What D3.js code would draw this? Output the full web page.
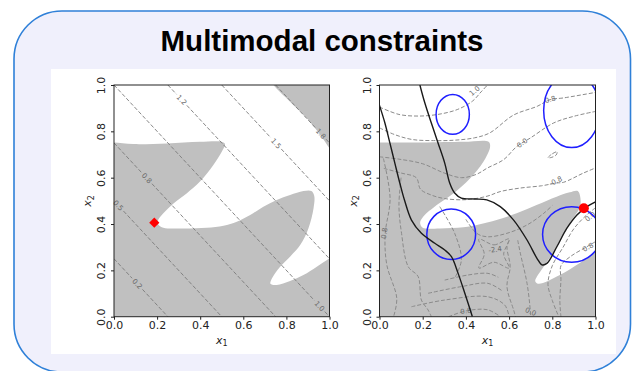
<!DOCTYPE html>
<html>
<head>
<meta charset="utf-8">
<script src="https://cdn.jsdelivr.net/npm/d3@7"></script>
<style>
  body { margin: 0; background: #ffffff; }
  text { font-family: "DejaVu Sans", sans-serif; }
</style>
</head>
<body>
<svg id="chart" width="632" height="371"></svg>
<script>
const titleText = 'Multimodal constraints';
const tickValues = [0, 0.2, 0.4, 0.6, 0.8, 1.0];
const tickLabels = ['0.0', '0.2', '0.4', '0.6', '0.8', '1.0'];

// left panel: straight objective contours x1 + x2 = level
const leftLevels = [0.25, 0.5, 0.75, 1.0, 1.25, 1.5, 1.75];
const leftLevelLabels = ['0.2', '0.5', '0.8', '1.0', '1.2', '1.5', '1.8'];
const leftLabelX1 = [0.108, 0.02, 0.152, 0.954, 0.314, 0.752, 0.96];
// feasible (white) region, data units
const leftFeasible = [[-0.03, 1.03], [0.72, 1.03], [0.74, 1.0], [0.817, 0.928], [0.895, 0.856], [0.957, 0.784], [1.0, 0.727], [1.03, 0.69],
  [1.03, 0.27], [1.0, 0.252], [0.941, 0.216], [0.879, 0.18], [0.817, 0.154], [0.755, 0.137], [0.726, 0.142], [0.734, 0.167],
  [0.771, 0.216], [0.817, 0.259], [0.864, 0.309], [0.902, 0.381], [0.926, 0.468], [0.929, 0.522], [0.916, 0.542], [0.879, 0.542],
  [0.817, 0.525], [0.755, 0.504], [0.693, 0.475], [0.632, 0.439], [0.57, 0.41], [0.508, 0.393], [0.43, 0.384], [0.322, 0.381],
  [0.229, 0.384], [0.207, 0.396], [0.203, 0.412], [0.229, 0.446], [0.276, 0.489], [0.337, 0.532], [0.399, 0.583], [0.461, 0.655],
  [0.5, 0.712], [0.515, 0.745], [0.5, 0.755], [0.399, 0.755], [0.245, 0.748], [0.09, 0.745], [0.0, 0.752], [-0.03, 0.752]];
const leftOptimum = [0.187, 0.406];

// right panel
const rightFeasible = [[-0.03, 1.03], [1.03, 1.03], [1.03, 0.3], [1.0, 0.28], [0.927, 0.232], [0.835, 0.18], [0.735, 0.142],
  [0.721, 0.153], [0.729, 0.173], [0.76, 0.216], [0.821, 0.301], [0.881, 0.404], [0.93, 0.48], [0.918, 0.542], [0.881, 0.537],
  [0.82, 0.518], [0.727, 0.482], [0.635, 0.446], [0.542, 0.417], [0.465, 0.399], [0.388, 0.386], [0.28, 0.381], [0.2, 0.384],
  [0.188, 0.405], [0.203, 0.432], [0.265, 0.482], [0.342, 0.532], [0.419, 0.597], [0.481, 0.669], [0.512, 0.734], [0.505, 0.755],
  [0.39, 0.755], [0.2, 0.752], [0.0, 0.752], [-0.03, 0.752]];
const rightContours = [
  [[0, 0.905], [0.09, 0.873], [0.18, 0.866], [0.27, 0.873], [0.36, 0.894], [0.43, 0.93], [0.47, 0.97], [0.5, 1.0]],
  [[0, 0.815], [0.07, 0.786], [0.15, 0.765], [0.25, 0.76], [0.35, 0.762], [0.44, 0.772], [0.51, 0.793], [0.62, 0.87], [0.73, 0.908], [0.79, 0.937], [0.85, 0.944], [1, 0.968]],
  [[0, 0.69], [0.09, 0.68], [0.2, 0.66], [0.3, 0.62], [0.38, 0.6], [0.45, 0.615], [0.5, 0.642], [0.575, 0.678], [0.636, 0.735], [0.698, 0.771], [0.806, 0.836], [0.9, 0.865], [1, 0.886]],
  [[0.02, 0.64], [0.1, 0.62], [0.17, 0.6], [0.19, 0.55], [0.24, 0.525], [0.3, 0.51], [0.4, 0.505], [0.498, 0.52], [0.559, 0.54], [0.65, 0.555], [0.75, 0.565], [0.82, 0.577], [0.852, 0.58], [0.944, 0.62], [1, 0.642]],
  [[1, 0.324], [0.96, 0.302], [0.883, 0.259], [0.84, 0.22], [0.84, 0.16], [0.835, 0.07], [0.84, 0]],
  [[1, 0.47], [0.96, 0.44], [0.9, 0.38], [0.85, 0.3], [0.8, 0.22], [0.78, 0.14], [0.8, 0.07], [0.83, 0]],
  [[0.4, 0.42], [0.45, 0.36], [0.498, 0.345], [0.59, 0.36], [0.683, 0.396], [0.76, 0.446], [0.8, 0.48]],
  [[0.6, 0.33], [0.59, 0.302], [0.605, 0.216], [0.59, 0.13], [0.621, 0.029], [0.63, 0]],
  [[0.64, 0.33], [0.652, 0.274], [0.683, 0.144], [0.698, 0.029], [0.7, 0]],
  [[0.302, 0.158], [0.41, 0.18], [0.502, 0.187], [0.55, 0.17]],
  [[0.225, 0.101], [0.379, 0.13], [0.502, 0.144], [0.57, 0.11]],
  [[0.148, 0.043], [0.302, 0.072], [0.502, 0.086], [0.58, 0.05], [0.6, 0]],
  [[0.279, 0.475], [0.348, 0.36], [0.379, 0.245], [0.35, 0.17]],
  [[0.018, 0.683], [0.049, 0.511], [0.026, 0.353], [0.034, 0.223], [0.08, 0.079], [0.065, 0]],
  [[0.1, 0.6], [0.09, 0.48], [0.102, 0.36], [0.133, 0.216], [0.179, 0.173], [0.194, 0.072], [0.225, 0.029], [0.24, 0]],
  [[0.32, 0], [0.4, 0.025], [0.5, 0.03], [0.56, 0]]
];
const rightClosedContours = [
  [[0.46, 0.335], [0.53, 0.31], [0.6, 0.335], [0.575, 0.27], [0.6, 0.21], [0.53, 0.235], [0.46, 0.21], [0.485, 0.27]],
  [[0.78, 0.686], [0.8, 0.703], [0.822, 0.712], [0.818, 0.698], [0.798, 0.688]]
];
const rightLevelLabels = ['1.0', '0.8', '0.0', '-0.8', '-2.4', '0.8', '0.0', '0.8', '0.8', '0.0'];
const rightLabelX1 = [0.44, 0.79, 0.66, 0.815, 0.535, 0.965, 0.975, 0.022, 0.40, 0.70];
const rightLabelX2 = [0.975, 0.938, 0.75, 0.585, 0.29, 0.3, 0.432, 0.36, 0.025, 0.022];
const constraintCurves = [
  [[0, 0.912], [0.025, 0.836], [0.048, 0.75], [0.071, 0.663], [0.094, 0.577], [0.117, 0.499], [0.148, 0.417], [0.194, 0.36],
    [0.256, 0.317], [0.302, 0.288], [0.333, 0.259], [0.364, 0.187], [0.395, 0.101], [0.425, 0.015], [0.43, 0]],
  [[0.187, 1.0], [0.21, 0.922], [0.24, 0.836], [0.271, 0.75], [0.302, 0.663], [0.325, 0.577], [0.348, 0.534], [0.379, 0.512],
    [0.441, 0.508], [0.497, 0.504], [0.559, 0.475], [0.621, 0.417], [0.683, 0.331], [0.729, 0.252], [0.752, 0.224], [0.775, 0.23],
    [0.821, 0.302], [0.867, 0.381], [0.914, 0.439], [0.96, 0.475], [1.0, 0.496]]
];
const blueCenters = [[0.339, 0.873], [0.89, 0.89], [0.332, 0.356], [0.89, 0.355]];
const blueRx = [0.077, 0.13, 0.113, 0.135];
const blueRy = [0.086, 0.16, 0.109, 0.12];
const rightOptimum = [0.946, 0.468];

const svg = d3.select('#chart');

// slide frame
svg.append('rect')
  .attr('x', 14).attr('y', 11).attr('width', 616.5).attr('height', 361).attr('rx', 48)
  .attr('fill', '#f0f0fc').attr('stroke', '#2f80d8').attr('stroke-width', 1.6);
svg.append('rect')
  .attr('x', 51).attr('y', 69).attr('width', 565).attr('height', 285).attr('fill', '#ffffff');
svg.append('text')
  .attr('x', 322).attr('y', 51).attr('text-anchor', 'middle')
  .style('font-family', '"Liberation Sans", Arial, sans-serif')
  .style('font-weight', 'bold').style('font-size', '29.5px').attr('fill', '#000')
  .text(titleText);

const plotTop = 85, plotBottom = 316.7;
const dash = '4,2';

function makePanel(left, right, clipId) {
  const x = d3.scaleLinear().domain([0, 1]).range([left, right]);
  const y = d3.scaleLinear().domain([0, 1]).range([plotBottom, plotTop]);
  const g = svg.append('g');
  g.append('clipPath').attr('id', clipId)
    .append('rect').attr('x', left).attr('y', plotTop).attr('width', right - left).attr('height', plotBottom - plotTop);
  const plot = g.append('g').attr('clip-path', `url(#${clipId})`);
  plot.append('rect')
    .attr('x', x(0)).attr('y', y(1)).attr('width', x(1) - x(0)).attr('height', y(0) - y(1))
    .attr('fill', '#c0c0c0');
  return { x, y, g, plot };
}

function drawAxes(p) {
  const { x, y, g } = p;
  // x axis
  const xa = g.append('g').attr('transform', `translate(0,${plotBottom})`)
    .call(d3.axisBottom(x).tickValues(tickValues).tickFormat((d, i) => tickLabels[i]).tickSize(3).tickPadding(1.5));
  xa.select('.domain').remove();
  xa.selectAll('line').attr('stroke', '#222');
  xa.selectAll('text').style('font-size', '11px').style('font-family', '"DejaVu Sans"').attr('fill', '#222');
  // y axis, rotated labels
  const ya = g.append('g').attr('transform', `translate(${x(0)},0)`)
    .call(d3.axisLeft(y).tickValues(tickValues).tickFormat((d, i) => tickLabels[i]).tickSize(3).tickPadding(1.5));
  ya.select('.domain').remove();
  ya.selectAll('line').attr('stroke', '#222');
  ya.selectAll('text')
    .attr('x', null).attr('dy', null).attr('text-anchor', 'middle')
    .attr('transform', 'translate(-9,0) rotate(-90)')
    .style('font-size', '11px').style('font-family', '"DejaVu Sans"').attr('fill', '#222');
  // spine
  g.append('rect')
    .attr('x', x(0)).attr('y', y(1)).attr('width', x(1) - x(0)).attr('height', y(0) - y(1))
    .attr('fill', 'none').attr('stroke', '#222').attr('stroke-width', 1);
  // axis titles
  const xt = g.append('text').attr('x', (x(0) + x(1)) / 2).attr('y', plotBottom + 27)
    .attr('text-anchor', 'middle').style('font-size', '11px').attr('fill', '#222');
  xt.append('tspan').style('font-style', 'italic').text('x');
  xt.append('tspan').attr('dy', 2.5).style('font-size', '8px').text('1');
  const yt = g.append('text')
    .attr('transform', `translate(${x(0) - 23},${(y(0) + y(1)) / 2}) rotate(-90)`)
    .attr('text-anchor', 'middle').style('font-size', '11px').attr('fill', '#222');
  yt.append('tspan').style('font-style', 'italic').text('x');
  yt.append('tspan').attr('dy', 2.5).style('font-size', '8px').text('2');
}

const curveOpen = d3.curveCatmullRom.alpha(0.5);
const curveClosed = d3.curveCatmullRomClosed.alpha(0.5);

// ---------- left panel ----------
const L = makePanel(114, 329.5, 'clipL');
const lineL = d3.line().x(d => L.x(d[0])).y(d => L.y(d[1]));
L.plot.append('path').datum(leftFeasible)
  .attr('d', lineL.curve(curveClosed)).attr('fill', '#ffffff');

const angleL = Math.atan2(L.y(0) - L.y(1), L.x(1) - L.x(0)) * 180 / Math.PI;
const gap = 0.024;
leftLevels.forEach((c, i) => {
  const sx = Math.max(0, c - 1), ex = Math.min(1, c);
  const lx = leftLabelX1[i];
  const segs = [[[sx, c - sx], [lx - gap, c - lx + gap]], [[lx + gap, c - lx - gap], [ex, c - ex]]];
  segs.forEach(s => {
    if (s[1][0] <= s[0][0]) return;
    L.plot.append('path').datum(s)
      .attr('d', d3.line().x(d => L.x(d[0])).y(d => L.y(d[1])))
      .attr('fill', 'none').attr('stroke', '#7a7a7a').attr('stroke-width', 0.9)
      .attr('stroke-dasharray', dash);
  });
  L.g.append('text')
    .attr('transform', `translate(${L.x(lx)},${L.y(c - lx)}) rotate(${angleL})`)
    .attr('text-anchor', 'middle').attr('dy', '0.35em')
    .style('font-size', '7px').attr('fill', '#6a6a6a')
    .text(leftLevelLabels[i]);
});

L.plot.append('path')
  .attr('d', d3.symbol(d3.symbolSquare, 52)())
  .attr('transform', `translate(${L.x(leftOptimum[0])},${L.y(leftOptimum[1])}) rotate(45)`)
  .attr('fill', '#ff0000');
drawAxes(L);

// ---------- right panel ----------
const R = makePanel(379.5, 595.5, 'clipR');
const lineR = d3.line().x(d => R.x(d[0])).y(d => R.y(d[1]));
R.plot.append('path').datum(rightFeasible)
  .attr('d', lineR.curve(curveClosed)).attr('fill', '#ffffff');

R.plot.selectAll('path.contour').data(rightContours).enter().append('path')
  .attr('class', 'contour')
  .attr('d', d3.line().x(d => R.x(d[0])).y(d => R.y(d[1])).curve(curveOpen))
  .attr('fill', 'none').attr('stroke', '#8a8a8a').attr('stroke-width', 1)
  .attr('stroke-dasharray', dash);
R.plot.selectAll('path.loop').data(rightClosedContours).enter().append('path')
  .attr('class', 'loop')
  .attr('d', d3.line().x(d => R.x(d[0])).y(d => R.y(d[1])).curve(curveClosed))
  .attr('fill', 'none').attr('stroke', '#8a8a8a').attr('stroke-width', 1)
  .attr('stroke-dasharray', dash);

const rightLabelAngle = [-40, -15, -35, -25, -8, -30, -40, -80, -10, 25];
rightLevelLabels.forEach((t, i) => {
  R.plot.append('text')
    .attr('transform', `translate(${R.x(rightLabelX1[i])},${R.y(rightLabelX2[i])}) rotate(${rightLabelAngle[i]})`)
    .attr('text-anchor', 'middle').attr('dy', '0.35em')
    .style('font-size', '7px').attr('fill', '#6a6a6a')
    .text(t);
});

R.plot.selectAll('ellipse').data(blueCenters).enter().append('ellipse')
  .attr('cx', d => R.x(d[0])).attr('cy', d => R.y(d[1]))
  .attr('rx', (d, i) => R.x(blueRx[i]) - R.x(0))
  .attr('ry', (d, i) => R.y(0) - R.y(blueRy[i]))
  .attr('fill', 'none').attr('stroke', '#1f1fff').attr('stroke-width', 1.5);

R.plot.selectAll('path.constraint').data(constraintCurves).enter().append('path')
  .attr('class', 'constraint')
  .attr('d', d3.line().x(d => R.x(d[0])).y(d => R.y(d[1])).curve(curveOpen))
  .attr('fill', 'none').attr('stroke', '#1a1a1a').attr('stroke-width', 1.4);

R.plot.append('circle')
  .attr('cx', R.x(rightOptimum[0])).attr('cy', R.y(rightOptimum[1])).attr('r', 5)
  .attr('fill', '#ff0000');
drawAxes(R);
</script>
</body>
</html>
